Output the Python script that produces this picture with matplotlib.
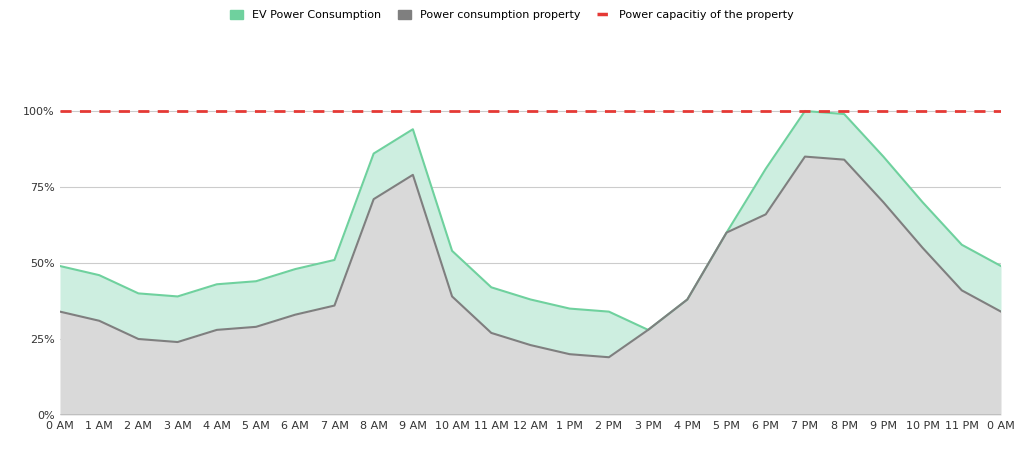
import matplotlib
matplotlib.use("Agg")
import matplotlib.pyplot as plt
from matplotlib.patches import Patch
from matplotlib.lines import Line2D

hours = ["0 AM","1 AM","2 AM","3 AM","4 AM","5 AM","6 AM","7 AM","8 AM","9 AM","10 AM","11 AM","12 AM",
         "1 PM","2 PM","3 PM","4 PM","5 PM","6 PM","7 PM","8 PM","9 PM","10 PM","11 PM","0 AM"]
ev_total = [49,46,40,39,43,44,48,51,86,94,54,42,38,35,34,28,38,60,81,100,99,85,70,56,49]
property_use = [34,31,25,24,28,29,33,36,71,79,39,27,23,20,19,28,38,60,66,85,84,70,55,41,34]
capacity = 100

fig = plt.figure(figsize=(10.24, 4.54), dpi=100)
ax = fig.add_axes([60/1024, 39/454, 941/1024, 380/454])
x = list(range(len(hours)))
ax.fill_between(x, 0, property_use, color="#d9d9d9", lw=0, zorder=2)
ax.fill_between(x, property_use, ev_total, color="#cdeee0", lw=0, zorder=2)
ax.plot(x, ev_total, color="#6fd19e", lw=1.5, zorder=3)
ax.plot(x, property_use, color="#7f7f7f", lw=1.5, zorder=4)
ax.axhline(capacity, color="#e53935", lw=2, ls=(0, (4, 3)), zorder=5)
ax.set_xlim(0, len(hours) - 1)
ax.set_ylim(0, 125)
ax.set_yticks([0, 25, 50, 75, 100])
ax.set_yticklabels([f"{v}%" for v in [0, 25, 50, 75, 100]])
ax.set_xticks(x)
ax.set_xticklabels(hours)
ax.tick_params(length=0, labelsize=8, colors="#333333", pad=4)
ax.grid(axis="y", color="#cccccc", lw=0.8, zorder=0)
for s in ax.spines.values():
    s.set_visible(False)
ax.axhline(0, color="#555555", lw=1, zorder=6)
handles = [Patch(color="#6fd19e", label="EV Power Consumption"),
           Patch(color="#7f7f7f", label="Power consumption property"),
           Line2D([], [], color="#e53935", lw=2.5, ls=(0, (3, 2)), label="Power capacitiy of the property")]
fig.legend(handles=handles, loc="upper center", bbox_to_anchor=(0.5, 1.0), ncol=3, frameon=False,
           fontsize=8, handlelength=1.2, handleheight=0.9, columnspacing=1.5)
fig.savefig("out.png")
